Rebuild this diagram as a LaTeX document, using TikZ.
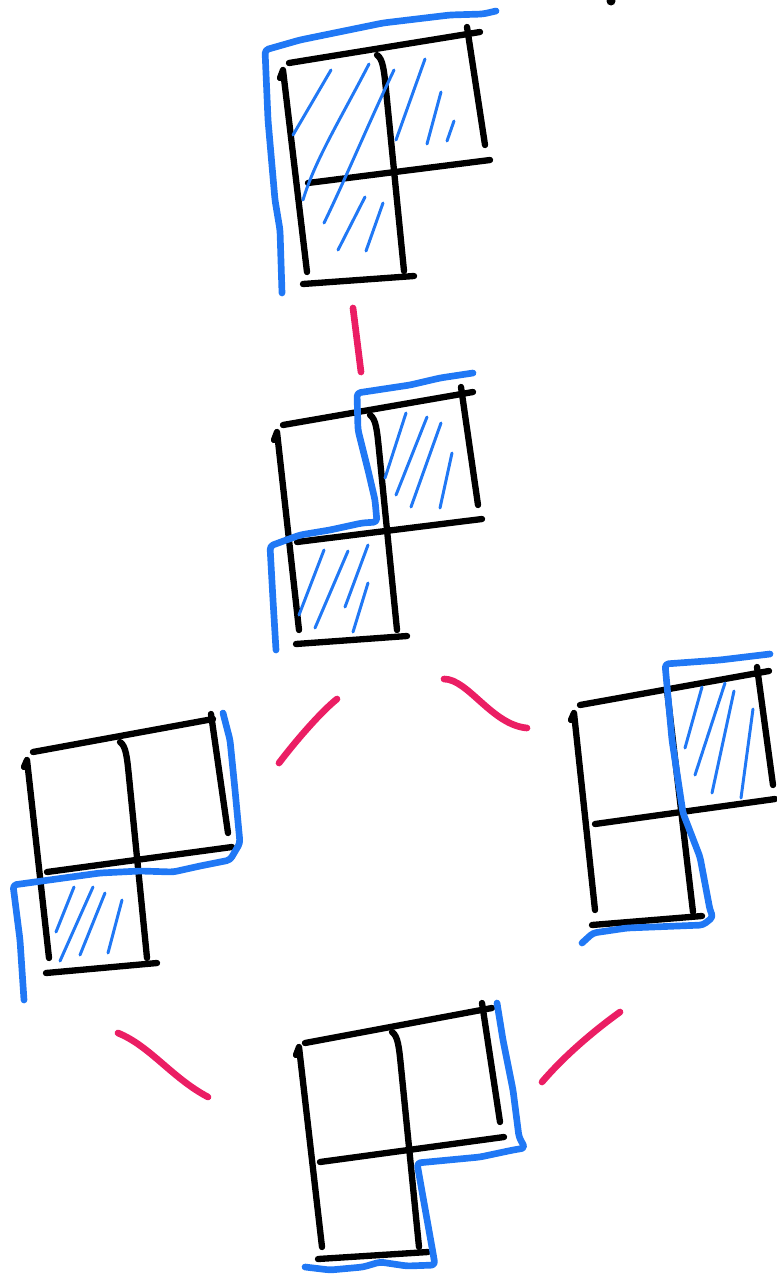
\documentclass[tikz,border=0pt]{standalone}
\usepackage{tikz}
\usetikzlibrary{positioning}
\definecolor{penblue}{RGB}{32,120,245}
\definecolor{penpink}{RGB}{235,30,100}

\begin{document}
\begin{tikzpicture}[x=0.02cm, y=-0.02cm,
  grid/.style={line width=3.6pt, line cap=round, line join=round},
  cut/.style={penblue, line width=3.8pt, line cap=round, line join=round, rounded corners=2pt},
  hatch/.style={penblue, line width=1.7pt, line cap=round},
  link/.style={penpink, line width=3.8pt, line cap=round}]

\useasboundingbox (0,0) rectangle (777,1278);

% top: all cells shaded
\draw [grid] (289,63) -- (480,32);
\draw [grid] (280,78) -- (283,70) -- (307,272);
\draw [grid] (377,55) .. controls (383,59) and (384,70) .. (386,90) -- (404,271);
\draw [grid] (467,27) -- (485,145);
\draw [grid] (308,183) -- (490,160);
\draw [grid] (303,284) -- (414,276);
\draw [cut] (496,11) -- (483,14) -- (450,15) -- (383,23) -- (300,40) -- (265,50) -- (268,120) -- (275,200) -- (280,230) -- (282,293);
\draw [hatch] (331,70) -- (293,135);
\draw [hatch] (369,64) .. controls (340,120) and (315,160) .. (303,200);
\draw [hatch] (394,70) .. controls (370,120) and (345,180) .. (324,223);
\draw [hatch] (425,59) -- (396,140);
\draw [hatch] (441,92) -- (427,144);
\draw [hatch] (454,121) -- (447,141);
\draw [hatch] (365,197) -- (338,250);
\draw [hatch] (383,203) -- (366,251);
\fill (611,1) circle (4.5);

% second: two cells shaded
\draw [grid] (283,425) -- (473,392);
\draw [grid] (274,440) -- (277,432) -- (299,630);
\draw [grid] (370,415) .. controls (376,419) and (377,430) .. (379,450) -- (397,630);
\draw [grid] (461,387) -- (478,505);
\draw [grid] (297,542) -- (482,519);
\draw [grid] (296,644) -- (407,636);
\draw [cut] (473,373) -- (440,378) -- (410,385) -- (357,393) -- (358,430) -- (368,470) -- (375,500) -- (377,522) -- (362,523) -- (330,530) -- (300,535) -- (270,546) -- (273,600) -- (276,650);
\draw [hatch] (406,413) -- (385,478);
\draw [hatch] (427,417) -- (396,495);
\draw [hatch] (441,423) -- (411,507);
\draw [hatch] (452,453) -- (440,508);
\draw [hatch] (324,550) -- (299,615);
\draw [hatch] (348,551) -- (315,628);
\draw [hatch] (368,545) -- (345,607);
\draw [hatch] (368,583) -- (353,632);

% left: bottom cell shaded
\draw [grid] (33,752) -- (213,719);
\draw [grid] (24,767) -- (27,760) -- (49,958);
\draw [grid] (120,742) .. controls (126,746) and (127,757) .. (129,777) -- (147,958);
\draw [grid] (211,714) -- (228,833);
\draw [grid] (47,872) -- (232,847);
\draw [grid] (46,973) -- (157,963);
\draw [cut] (223,713) -- (230,740) -- (235,790) -- (240,843) -- (230,860) -- (200,866) -- (173,872) -- (140,871) -- (100,873) -- (13,885) -- (20,940) -- (24,1000);
\draw [hatch] (74,887) -- (56,932);
\draw [hatch] (93,887) -- (60,961);
\draw [hatch] (105,893) -- (80,955);
\draw [hatch] (122,900) -- (108,953);

% right: top right cell shaded
\draw [grid] (580,705) -- (769,671);
\draw [grid] (571,720) -- (574,713) -- (595,910);
\draw [grid] (667,690) -- (693,912);
\draw [grid] (757,667) -- (773,785);
\draw [grid] (595,824) -- (775,799);
\draw [grid] (592,925) -- (702,916);
\draw [cut] (770,654) -- (720,660) -- (665,664) -- (672,740) -- (683,813) -- (700,857) -- (710,910) -- (713,917) -- (703,925) -- (627,928) -- (593,933) -- (582,943);
\draw [hatch] (702,687) -- (685,748);
\draw [hatch] (725,683) -- (695,775);
\draw [hatch] (734,691) -- (712,793);
\draw [hatch] (753,709) -- (741,798);

% bottom: no cell shaded
\draw [grid] (305,1043) -- (492,1008);
\draw [grid] (296,1055) -- (299,1047) -- (322,1247);
\draw [grid] (392,1032) .. controls (398,1036) and (399,1047) .. (401,1067) -- (419,1247);
\draw [grid] (482,1003) -- (500,1122);
\draw [grid] (320,1162) -- (504,1137);
\draw [grid] (318,1259) -- (428,1252);
\draw [cut] (497,1003) -- (503,1040) -- (513,1090) -- (519,1137) -- (525,1148) -- (513,1150) -- (480,1157) -- (417,1163) -- (423,1197) -- (433,1253) -- (435,1265) -- (407,1266) -- (380,1262) -- (363,1267) -- (330,1270) -- (305,1267);

% links between the pictures
\coordinate (top-s) at (353,308);
\coordinate (mid-n) at (361,372);
\coordinate (mid-sw) at (337,699);
\coordinate (left-ne) at (279,763);
\coordinate (mid-se) at (444,679);
\coordinate (right-nw) at (527,728);
\coordinate (left-se) at (118,1033);
\coordinate (bot-nw) at (208,1097);
\coordinate (right-sw) at (620,1012);
\coordinate (bot-ne) at (542,1082);

\draw [link] (top-s) -- (mid-n);
\draw [link] (mid-sw) .. controls (322,711) and (298,738) .. (left-ne);
\draw [link] (mid-se) .. controls (468,679) and (492,725) .. (right-nw);
\draw [link] (left-se) .. controls (150,1046) and (172,1078) .. (bot-nw);
\draw [link] (right-sw) .. controls (595,1030) and (565,1055) .. (bot-ne);

\end{tikzpicture}
\end{document}
